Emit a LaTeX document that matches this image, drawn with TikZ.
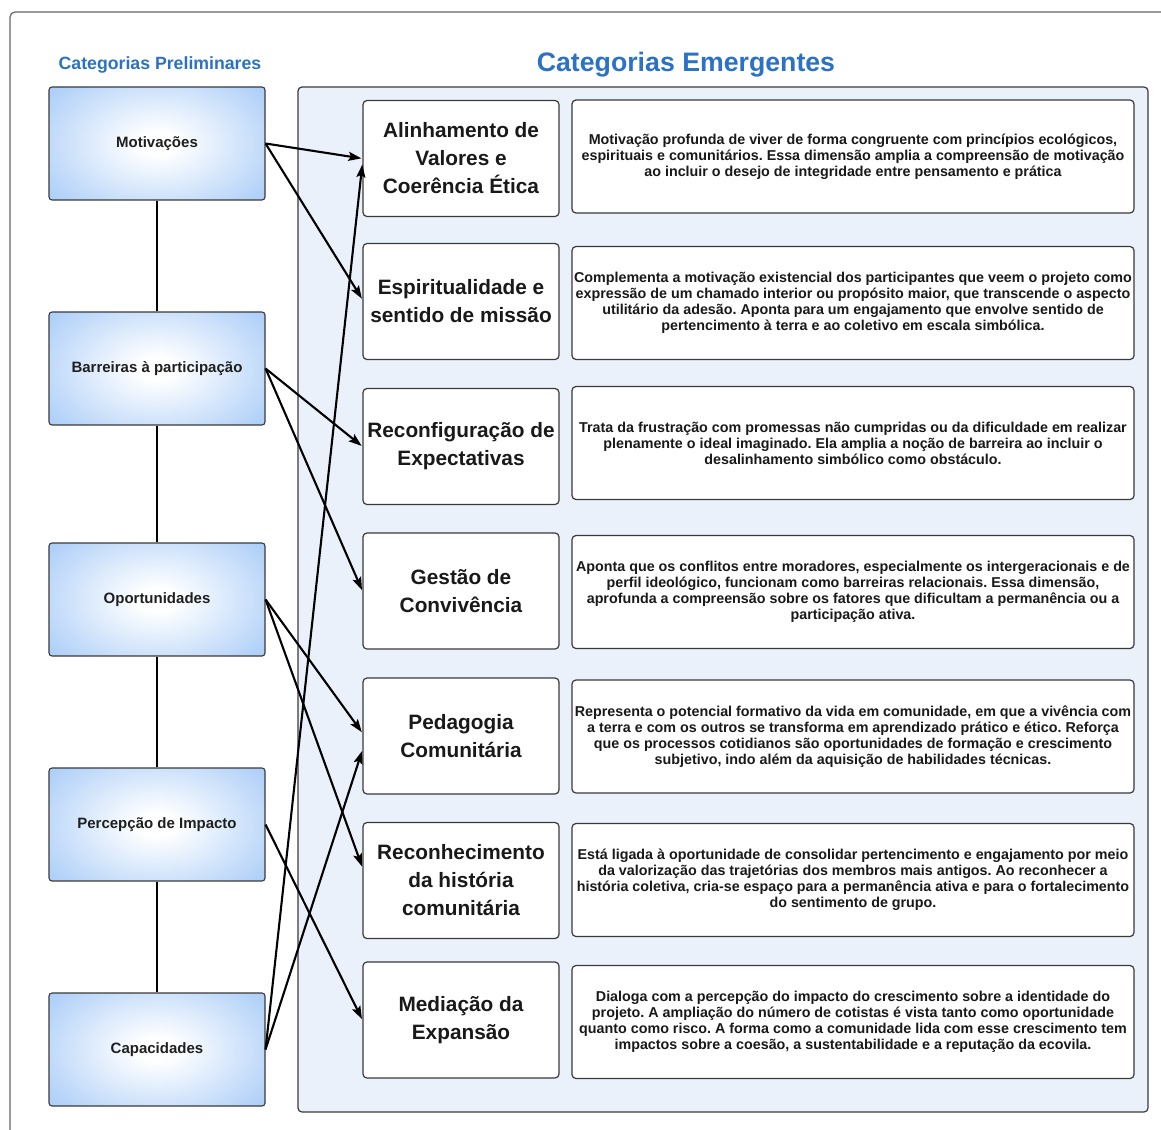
\documentclass[tikz,border=0pt]{standalone}
\usepackage{fontspec}
\setmainfont{Liberation Sans}
\usetikzlibrary{arrows.meta}
\definecolor{titleblue}{HTML}{2B72C4}
\definecolor{panelfill}{HTML}{EAF1FB}
\definecolor{edgegray}{HTML}{3A3A3A}
\definecolor{glowO}{HTML}{B8D5F9}
\definecolor{glowA}{HTML}{8DBBF5}
\definecolor{glowB}{HTML}{78AEF2}
\definecolor{glowC}{HTML}{68A3EF}
\pgfdeclareradialshading{boxglow}{\pgfpoint{0bp}{0bp}}{color(0bp)=(white); color(3bp)=(white); color(20bp)=(glowO); color(31bp)=(glowA); color(37bp)=(glowB); color(47bp)=(glowC); color(60bp)=(glowC)}
\tikzset{
  prelim/.style={draw=edgegray, line width=1.1pt, rounded corners=3pt, minimum width=216pt, minimum height=113pt, inner sep=0pt,
    path picture={\shade[shading=boxglow] (path picture bounding box.center) ellipse (150pt and 95pt);},
    font=\fontsize{15}{18}\selectfont\bfseries, text=black!88},
  emerg/.style={draw=edgegray, fill=white, line width=1.2pt, rounded corners=4pt, minimum width=196pt, minimum height=116pt, inner sep=0pt, align=center,
    font=\fontsize{20.8}{28}\selectfont\bfseries, text=black!90},
  desc/.style={draw=edgegray, fill=white, line width=1.2pt, rounded corners=4pt, minimum width=562pt, minimum height=113pt, inner sep=0pt, align=center,
    font=\fontsize{14.3}{16}\selectfont\bfseries\frenchspacing, text=black!90},
  link/.style={line width=1.6pt, black},
  arr/.style={line width=2.1pt, black, -{Stealth[length=13pt,width=9pt,inset=2.5pt]}, shorten >=1pt},
  ttl/.style={text=titleblue, inner sep=0pt}
}
\begin{document}
\begin{tikzpicture}[x=1pt,y=-1pt]
\clip (0,0) rectangle (1161,1129);
\fill[white] (0,0) rectangle (1161,1129);
% outer frame
\draw[line width=1.2pt, black!60, rounded corners=5pt] (10,1160) -- (10,12) -- (1190,12);
% titles
\node[ttl, font=\fontsize{17.7}{20}\selectfont\bfseries] (tp) at (160,65) {Categorias Preliminares};
\node[ttl, font=\fontsize{26.7}{30}\selectfont\bfseries] (te) at (686,64.5) {Categorias Emergentes};
% panel
\draw[fill=panelfill, draw=edgegray, line width=1.2pt, rounded corners=4pt] (298,87) rectangle (1148,1112);
% left boxes
\node[prelim] (mot) at (157,143.5) {Motivações};
\node[prelim] (bar) at (157,368.5) {Barreiras à participação};
\node[prelim] (opo) at (157,599.5) {Oportunidades};
\node[prelim] (per) at (157,824.5) {Percepção de Impacto};
\node[prelim] (cap) at (157,1049.5) {Capacidades};
\draw[link] (mot.south) -- (bar.north);
\draw[link] (bar.south) -- (opo.north);
\draw[link] (opo.south) -- (per.north);
\draw[link] (per.south) -- (cap.north);
% middle boxes
\node[emerg] (alin) at (461,158.5) {Alinhamento de\\Valores e\\Coerência Ética};
\node[emerg] (esp) at (461,301.5) {Espiritualidade e\\sentido de missão};
\node[emerg] (rec) at (461,446.5) {Reconfiguração de\\Expectativas};
\node[emerg] (ges) at (461,591) {Gestão de\\Convivência};
\node[emerg] (ped) at (461,736) {Pedagogia\\Comunitária};
\node[emerg] (rhc) at (461,880.5) {Reconhecimento\\da história\\comunitária};
\node[emerg] (med) at (461,1020) {Mediação da\\Expansão};
% description boxes
\node[desc] (d1) at (853,156.5) {Motivação profunda de viver de forma congruente com princípios ecológicos,\\espirituais e comunitários. Essa dimensão amplia a compreensão de motivação\\ao incluir o desejo de integridade entre pensamento e prática};
\node[desc] (d2) at (853,303) {Complementa a motivação existencial dos participantes que veem o projeto como\\expressão de um chamado interior ou propósito maior, que transcende o aspecto\\utilitário da adesão. Aponta para um engajamento que envolve sentido de\\pertencimento à terra e ao coletivo em escala simbólica.};
\node[desc] (d3) at (853,443) {Trata da frustração com promessas não cumpridas ou da dificuldade em realizar\\plenamente o ideal imaginado. Ela amplia a noção de barreira ao incluir o\\desalinhamento simbólico como obstáculo.};
\node[desc] (d4) at (853,592) {Aponta que os conflitos entre moradores, especialmente os intergeracionais e de\\perfil ideológico, funcionam como barreiras relacionais. Essa dimensão,\\aprofunda a compreensão sobre os fatores que dificultam a permanência ou a\\participação ativa.};
\node[desc] (d5) at (853,736.5) {Representa o potencial formativo da vida em comunidade, em que a vivência com\\a terra e com os outros se transforma em aprendizado prático e ético. Reforça\\que os processos cotidianos são oportunidades de formação e crescimento\\subjetivo, indo além da aquisição de habilidades técnicas.};
\node[desc] (d6) at (853,880) {Está ligada à oportunidade de consolidar pertencimento e engajamento por meio\\da valorização das trajetórias dos membros mais antigos. Ao reconhecer a\\história coletiva, cria-se espaço para a permanência ativa e para o fortalecimento\\do sentimento de grupo.};
\node[desc] (d7) at (853,1022) {Dialoga com a percepção do impacto do crescimento sobre a identidade do\\projeto. A ampliação do número de cotistas é vista tanto como oportunidade\\quanto como risco. A forma como a comunidade lida com esse crescimento tem\\impactos sobre a coesão, a sustentabilidade e a reputação da ecovila.};
% arrows
\draw[arr] (mot.east) -- (alin.west);
\draw[arr] (mot.east) -- ([yshift=2pt]esp.west);
\draw[arr] (bar.east) -- (rec.west);
\draw[arr] (bar.east) -- (ges.west);
\draw[arr] (opo.east) -- ([yshift=3pt]ped.west);
\draw[arr] (opo.east) -- ([yshift=13pt]rhc.west);
\draw[arr] (per.east) -- (med.west);
\draw[arr] (cap.east) -- ([yshift=-5pt]alin.west);
\draw[arr] (cap.east) -- ([yshift=-14pt]ped.west);
\end{tikzpicture}
\end{document}
